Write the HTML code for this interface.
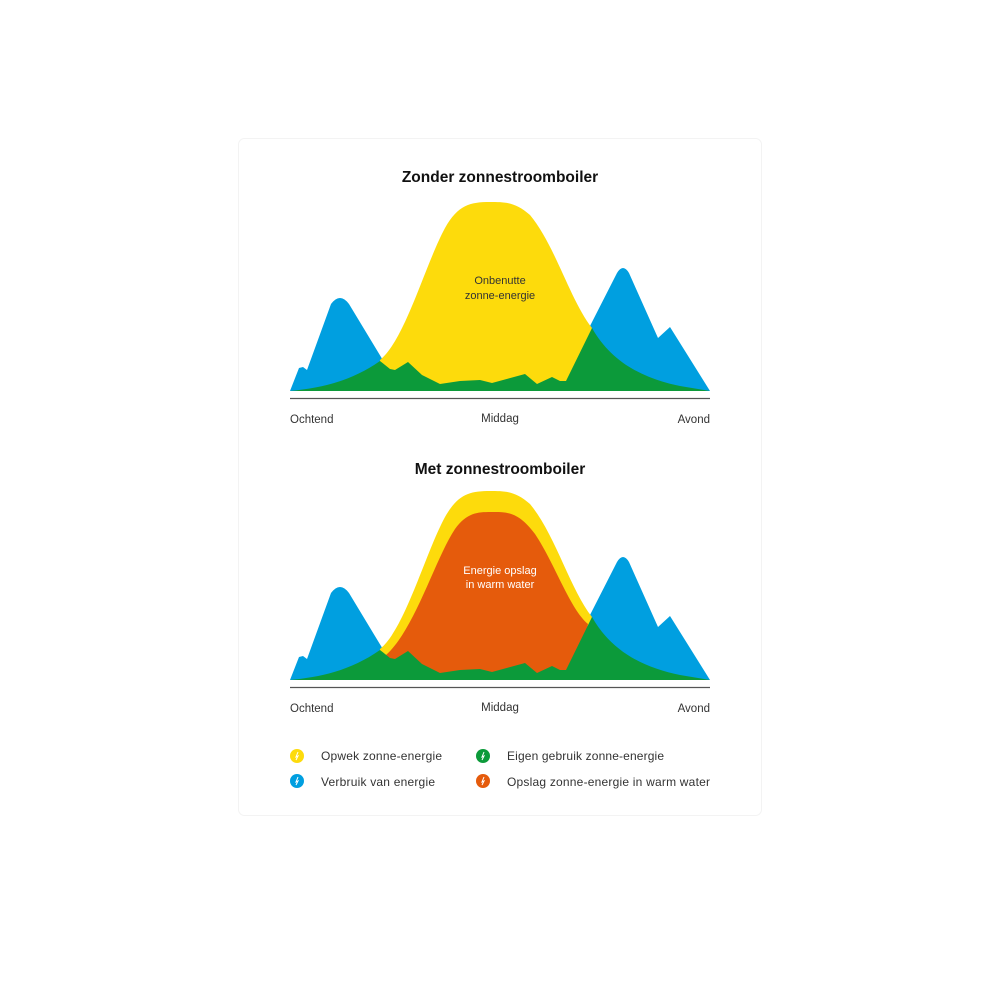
<!DOCTYPE html>
<html><head><meta charset="utf-8"><style>
body{margin:0;background:#fff;width:1000px;height:1000px;overflow:hidden;font-family:"Liberation Sans",sans-serif}
</style></head><body>
<svg width="1000" height="1000" viewBox="0 0 1000 1000" xmlns="http://www.w3.org/2000/svg">
<rect x="238.5" y="138.5" width="523" height="677" rx="6" fill="#fff" stroke="#f3f3f3"/>
<defs>
<g id="blue">
<path d="M290,391 L299,368 L303,367 L307,370 L331,304 Q340,292 349,304 L384,362 L420,391 Z" fill="#009fe0"/>
<path d="M545,391 L590,326 L617,273 Q623,263 629,273 L658,338 L670,327 L710,391 Z" fill="#009fe0"/>
</g>
<g id="green">
<path d="M290,391 C320,388 350,382 380,361 L390,369 L395,370 L408,362 L422,375 L440,384 L460,381 L480,380 L492,383 L525,374 L537,384 L552,377 L560,381 L566,381 L592,328 C610,360 640,378 680,386 L710,391 Z" fill="#0c9a3a"/>
</g>
</defs>
<text x="500" y="182" text-anchor="middle" font-size="15.5" font-weight="bold" fill="#111">Zonder zonnestroomboiler</text>
<use href="#blue"/>
<path d="M376,391 L380,360 C405,340 425,265 445,228 C458,205 470,202 490,202 C505,202 515,202 530,215 C555,245 570,300 592,328 L580,391 Z" fill="#fddb0c"/>
<use href="#green"/>
<text x="500" y="284" text-anchor="middle" font-size="11" fill="#333">Onbenutte</text>
<text x="500" y="299" text-anchor="middle" font-size="11" fill="#333">zonne-energie</text>
<line x1="290" y1="398.5" x2="710" y2="398.5" stroke="#555" stroke-width="1.2"/>
<text x="290" y="423" font-size="11.5" fill="#333">Ochtend</text>
<text x="500" y="422" text-anchor="middle" font-size="11.5" fill="#333">Middag</text>
<text x="710" y="423" text-anchor="end" font-size="11.5" fill="#333">Avond</text>

<text x="500" y="474" text-anchor="middle" font-size="15.5" font-weight="bold" fill="#111">Met zonnestroomboiler</text>
<g transform="translate(0,289)">
<use href="#blue"/>
<path d="M376,391 L380,360 C405,340 425,265 445,228 C458,205 470,202 490,202 C505,202 515,202 530,215 C555,245 570,300 592,328 L580,391 Z" fill="#fddb0c"/>
<path d="M384,391 L386,366 C415,340 435,270 455,240 C468,222 480,223 495,223 C510,223 520,225 535,245 C555,275 570,320 588,335 L575,391 Z" fill="#e55b0c"/>
<use href="#green"/>
<text x="500" y="285" text-anchor="middle" font-size="11" fill="#fff">Energie opslag</text>
<text x="500" y="299" text-anchor="middle" font-size="11" fill="#fff">in warm water</text>
<line x1="290" y1="398.5" x2="710" y2="398.5" stroke="#555" stroke-width="1.2"/>
<text x="290" y="423" font-size="11.5" fill="#333">Ochtend</text>
<text x="500" y="422" text-anchor="middle" font-size="11.5" fill="#333">Middag</text>
<text x="710" y="423" text-anchor="end" font-size="11.5" fill="#333">Avond</text>
</g>

<circle cx="297" cy="756" r="7" fill="#fddb0c"/>
<circle cx="297" cy="781" r="7" fill="#009fe0"/>
<circle cx="483" cy="756" r="7" fill="#0c9a3a"/>
<circle cx="483" cy="781" r="7" fill="#e55b0c"/>
<g stroke="#fff" stroke-width="1" fill="none">
<path d="M298,752 L296,757 L298,756 L296,760"/>
<path d="M298,777 L296,782 L298,781 L296,785"/>
<path d="M484,752 L482,757 L484,756 L482,760"/>
<path d="M484,777 L482,782 L484,781 L482,785"/>
</g>
<g font-size="12" fill="#333">
<text x="321" y="760" textLength="121">Opwek zonne-energie</text>
<text x="321" y="786" textLength="114">Verbruik van energie</text>
<text x="507" y="760" textLength="157">Eigen gebruik zonne-energie</text>
<text x="507" y="786" textLength="203">Opslag zonne-energie in warm water</text>
</g>
</svg>
</body></html>
